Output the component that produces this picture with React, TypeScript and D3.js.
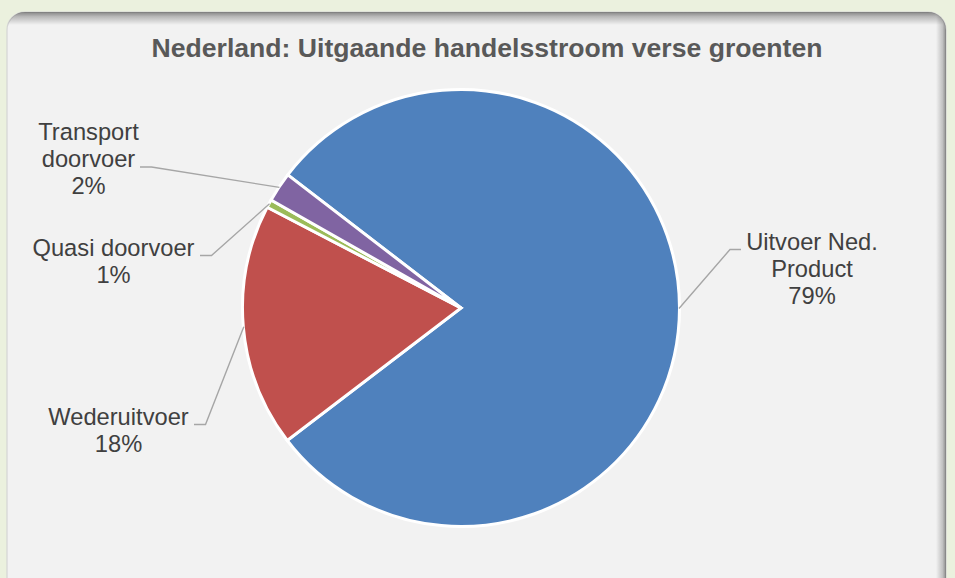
import React from "react";
import * as d3 from "d3";

const title = "Nederland: Uitgaande handelsstroom verse groenten";
const categories = ["Uitvoer Ned. Product", "Wederuitvoer", "Quasi doorvoer", "Transport doorvoer"];
const labelLines = [["Uitvoer Ned.", "Product"], ["Wederuitvoer"], ["Quasi doorvoer"], ["Transport", "doorvoer"]];
const values = [79.2, 18.0, 0.6, 2.2];
const colors = ["#4f81bd", "#c0504d", "#9bbb59", "#8064a2"];

// label layout (Excel's placement): text centre x, first baseline y, leader elbow and end
const labelLayout = [
  { cx: 812, y: 249.5, elbow: [730, 249.5], end: [741, 249.5] },
  { cx: 118.5, y: 425, elbow: [205.5, 424.5], end: [194, 424.5] },
  { cx: 113.5, y: 255.5, elbow: [211.5, 255.5], end: [200, 255.5] },
  { cx: 88.5, y: 140, elbow: [151.5, 167], end: [140, 167] },
];

const W = 955;
const H = 578;
const CX = 461;
const CY = 308;
const R = 218.5;
const START = (-52.45 * Math.PI) / 180;

export default function App() {
  const total = d3.sum(values);
  const pie = d3
    .pie<number>()
    .sort(null)
    .value((v) => v)
    .startAngle(START)
    .endAngle(START + 2 * Math.PI);
  const arcs = pie(values);
  const arc = d3.arc<d3.PieArcDatum<number>>().innerRadius(0).outerRadius(R);
  const edge = d3.arc<d3.PieArcDatum<number>>().innerRadius(R - 0.5).outerRadius(R - 0.5);

  const panelX = 7, panelY = 12, panelW = 939, panelH = 620, rx = 18;

  return (
    <svg
      width={W}
      height={H}
      style={{ position: "absolute", left: 0, top: 0, display: "block" }}
      fontFamily="'Liberation Sans', Arial, sans-serif"
    >
      <defs>
        <clipPath id="panelClip">
          <rect x={panelX} y={panelY} width={panelW} height={panelH} rx={rx} ry={rx} />
        </clipPath>
        <linearGradient id="topShade" x1="0" y1="0" x2="0" y2="1">
          <stop offset="0" stopColor="#000" stopOpacity={0.45} />
          <stop offset="0.35" stopColor="#000" stopOpacity={0.24} />
          <stop offset="1" stopColor="#000" stopOpacity={0} />
        </linearGradient>
        <linearGradient id="rightShade" x1="1" y1="0" x2="0" y2="0">
          <stop offset="0" stopColor="#000" stopOpacity={0.42} />
          <stop offset="0.35" stopColor="#000" stopOpacity={0.2} />
          <stop offset="1" stopColor="#000" stopOpacity={0} />
        </linearGradient>
      </defs>
      <rect x={0} y={0} width={W} height={H} fill="#ebf1de" />
      <rect
        x={panelX}
        y={panelY}
        width={panelW}
        height={panelH}
        rx={rx}
        ry={rx}
        fill="#f2f2f2"
        stroke="#d4d4d4"
        strokeWidth={1.2}
      />
      <g clipPath="url(#panelClip)">
        <rect x={panelX} y={panelY} width={panelW} height={13} fill="url(#topShade)" />
        <rect x={panelX + panelW - 10} y={panelY} width={10} height={panelH} fill="url(#rightShade)" />
      </g>

      <text
        x={487}
        y={56.5}
        textAnchor="middle"
        fontSize={26.6}
        fontWeight="bold"
        fill="#595959"
      >
        {title}
      </text>

      <g transform={`translate(${CX},${CY})`}>
        {arcs.map((d, i) => (
          <path
            key={categories[i]}
            d={arc(d) || ""}
            fill={colors[i]}
            stroke="#ffffff"
            strokeWidth={3}
            strokeLinejoin="miter"
          />
        ))}
      </g>

      {arcs.map((d, i) => {
        const [px, py] = edge.centroid(d);
        const L = labelLayout[i];
        return (
          <polyline
            key={"l" + i}
            points={`${CX + px},${CY + py} ${L.elbow[0]},${L.elbow[1]} ${L.end[0]},${L.end[1]}`}
            fill="none"
            stroke="#a6a6a6"
            strokeWidth={1.4}
          />
        );
      })}

      {arcs.map((d, i) => {
        const L = labelLayout[i];
        const pct = Math.round((values[i] / total) * 100) + "%";
        const lines = [...labelLines[i], pct];
        return (
          <text key={"t" + i} x={L.cx} y={L.y} textAnchor="middle" fontSize={23.7} fill="#404040">
            {lines.map((s, j) => (
              <tspan key={j} x={L.cx} dy={j === 0 ? 0 : 27.2}>
                {s}
              </tspan>
            ))}
          </text>
        );
      })}
    </svg>
  );
}
